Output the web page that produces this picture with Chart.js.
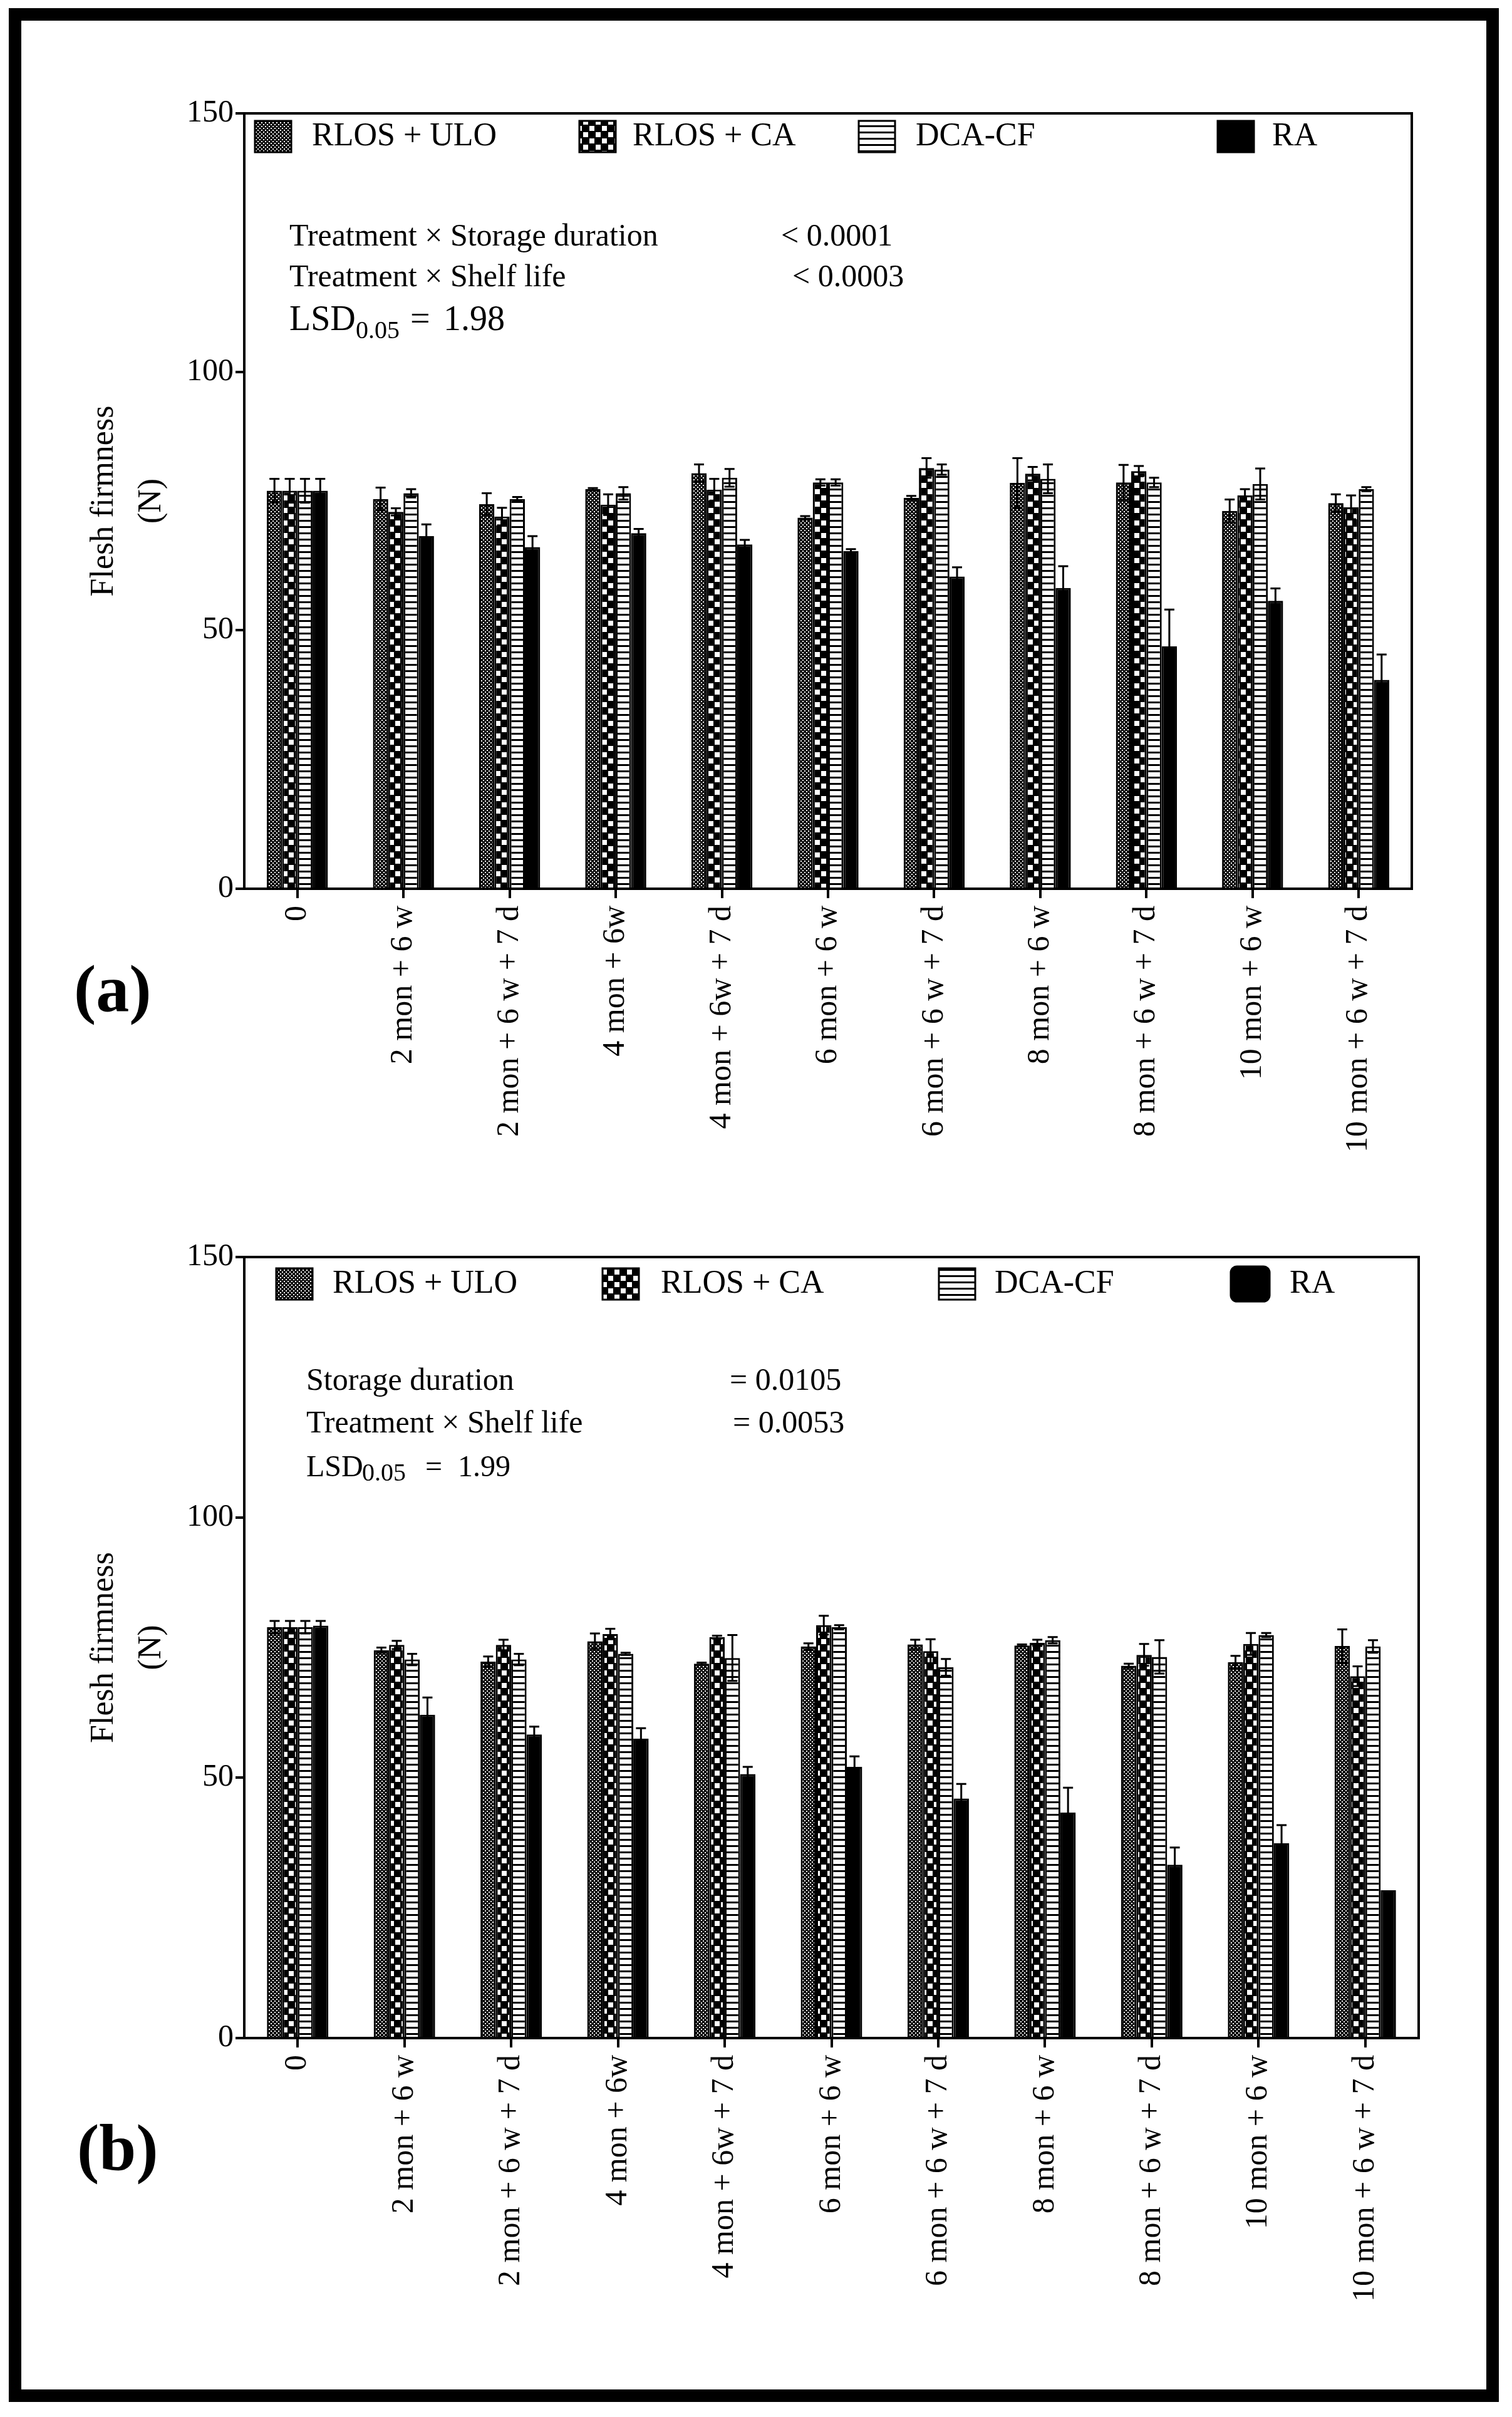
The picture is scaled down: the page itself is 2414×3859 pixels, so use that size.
<!DOCTYPE html>
<html>
<head>
<meta charset="utf-8">
<script src="https://cdn.jsdelivr.net/npm/chart.js@4.4.1/dist/chart.umd.min.js"></script>
<style>
  html, body { margin: 0; padding: 0; background: #fff; }
  body { width: 2414px; height: 3859px; position: relative; overflow: hidden; font-family: "Liberation Serif", serif; color: #000; }
  #frame { position: absolute; left: 14px; top: 13px; width: 2379px; height: 3822px; box-sizing: border-box; border: 20px solid #000; }
  .wrap { position: absolute; left: 0; width: 2414px; height: 1900px; }
  .wrap canvas { position: absolute; left: 0; top: 0; }
  .txt { position: absolute; white-space: nowrap; line-height: 1; z-index: 5; }
  .tag { position: absolute; font-weight: bold; font-size: 106px; line-height: 1; z-index: 5; }
</style>
</head>
<body>
<div id="frame"></div>

<div class="wrap" style="top:0px"><canvas id="chartA" width="2414" height="1900"></canvas></div>
<div class="wrap" style="top:1826px"><canvas id="chartB" width="2414" height="1900"></canvas></div>

<!-- panel (a) annotations -->
<div class="txt" style="left:462px;top:350px;font-size:50px">Treatment × Storage duration</div>
<div class="txt" style="left:1247px;top:350px;font-size:50px">&lt; 0.0001</div>
<div class="txt" style="left:462px;top:415px;font-size:50px">Treatment × Shelf life</div>
<div class="txt" style="left:1265px;top:415px;font-size:50px">&lt; 0.0003</div>
<div class="txt" style="left:462px;top:480px;font-size:56px">LSD</div>
<div class="txt" style="left:568px;top:507px;font-size:40px">0.05</div>
<div class="txt" style="left:655px;top:480px;font-size:56px">=</div>
<div class="txt" style="left:708px;top:480px;font-size:56px">1.98</div>
<div class="tag" style="left:118px;top:1526px">(a)</div>

<!-- panel (b) annotations -->
<div class="txt" style="left:489px;top:2177px;font-size:50px">Storage duration</div>
<div class="txt" style="left:1165px;top:2177px;font-size:50px">= 0.0105</div>
<div class="txt" style="left:489px;top:2245px;font-size:50px">Treatment × Shelf life</div>
<div class="txt" style="left:1170px;top:2245px;font-size:50px">= 0.0053</div>
<div class="txt" style="left:489px;top:2317px;font-size:48px">LSD</div>
<div class="txt" style="left:578px;top:2331px;font-size:40px">0.05</div>
<div class="txt" style="left:679px;top:2317px;font-size:48px">=</div>
<div class="txt" style="left:731px;top:2317px;font-size:48px">1.99</div>
<div class="tag" style="left:123px;top:3377px">(b)</div>

<script>
// categories and series
const categories = ['0', '2 mon + 6 w', '2 mon + 6 w + 7 d', '4 mon + 6w', '4 mon + 6w + 7 d',
  '6 mon + 6 w', '6 mon + 6 w + 7 d', '8 mon + 6 w', '8 mon + 6 w + 7 d', '10 mon + 6 w', '10 mon + 6 w + 7 d'];
const seriesNames = ['RLOS + ULO', 'RLOS + CA', 'DCA-CF', 'RA'];
const yTicks = [0, 50, 100, 150];

// panel (a) means and error bars
const uloA = [77.0, 75.4, 74.4, 77.3, 80.4, 71.8, 75.6, 78.5, 78.6, 73.1, 74.6];
const caA = [77.0, 72.9, 72.0, 74.3, 77.2, 78.6, 81.4, 80.3, 80.8, 76.1, 73.8];
const dcaA = [77.0, 76.5, 75.4, 76.5, 79.5, 78.6, 81.1, 79.3, 78.6, 78.3, 77.3];
const raA = [77.0, 68.2, 66.1, 68.8, 66.6, 65.3, 60.4, 58.2, 46.9, 55.7, 40.4];
const uloErrA = [2.3, 2.2, 2.1, 0.2, 1.7, 0.3, 0.4, 4.8, 3.4, 2.2, 1.7];
const caErrA = [2.3, 0.7, 1.7, 2.0, 2.1, 0.6, 1.9, 1.3, 1.0, 1.2, 2.3];
const dcaErrA = [2.3, 0.8, 0.4, 1.2, 1.7, 0.6, 1.0, 2.8, 0.9, 3.0, 0.4];
const raErrA = [2.3, 2.3, 2.1, 0.8, 0.9, 0.4, 1.8, 4.2, 7.1, 2.4, 4.9];

// panel (b) means and error bars
const uloB = [78.9, 74.5, 72.3, 76.2, 71.9, 75.2, 75.6, 75.4, 71.5, 72.2, 75.3];
const caB = [78.9, 75.5, 75.5, 77.6, 77.0, 79.3, 74.3, 75.9, 73.6, 75.7, 69.5];
const dcaB = [78.9, 72.7, 72.7, 73.8, 73.0, 78.9, 71.2, 76.4, 73.2, 77.4, 75.2];
const raB = [79.2, 62.1, 58.3, 57.5, 50.7, 52.1, 46.0, 43.3, 33.3, 37.4, 28.4];
const uloErrB = [1.2, 0.5, 1.0, 1.5, 0.2, 0.6, 0.9, 0.2, 0.4, 1.2, 3.2];
const caErrB = [1.2, 0.8, 1.0, 1.0, 0.3, 1.8, 2.3, 0.6, 2.1, 2.1, 1.9];
const dcaErrB = [1.2, 1.1, 1.1, 0.2, 4.4, 0.4, 1.6, 0.6, 3.2, 0.4, 1.2];
const raErrB = [0.9, 3.3, 1.5, 2.0, 1.4, 2.0, 2.8, 4.8, 3.3, 3.5, 0];

const FONT = 'Liberation Serif';

function makePattern(kind) {
  const c = document.createElement('canvas');
  const g = c.getContext('2d');
  if (kind === 'fine') {
    c.width = 6; c.height = 6;
    g.fillStyle = '#000'; g.fillRect(0, 0, 6, 6);
    g.fillStyle = '#fff'; g.fillRect(0, 0, 2, 2); g.fillRect(3, 3, 2, 2);
  } else if (kind === 'check') {
    c.width = 20; c.height = 20;
    g.fillStyle = '#000'; g.fillRect(0, 0, 20, 20);
    g.fillStyle = '#fff'; g.fillRect(1, 1, 8, 8); g.fillRect(11, 11, 8, 8);
  } else if (kind === 'stripe') {
    c.width = 10; c.height = 10;
    g.fillStyle = '#fff'; g.fillRect(0, 0, 10, 10);
    g.fillStyle = '#000'; g.fillRect(0, 0, 10, 3);
  }
  return g.createPattern(c, 'repeat');
}

const fills = [makePattern('fine'), makePattern('check'), makePattern('stripe'), '#000'];

// up/down error bars with caps
const errorBars = {
  id: 'errorBars',
  afterDatasetsDraw(chart) {
    const ctx = chart.ctx;
    const y = chart.scales.y;
    ctx.save();
    ctx.strokeStyle = '#000';
    ctx.lineWidth = 3;
    chart.data.datasets.forEach((ds, i) => {
      const meta = chart.getDatasetMeta(i);
      meta.data.forEach((bar, j) => {
        const v = ds.data[j], e = ds.errors[j];
        if (!e) return;
        const top = y.getPixelForValue(v + e);
        const bot = y.getPixelForValue(v - e);
        ctx.beginPath();
        ctx.moveTo(bar.x, bot); ctx.lineTo(bar.x, top);
        ctx.moveTo(bar.x - 8, top); ctx.lineTo(bar.x + 8, top);
        ctx.moveTo(bar.x - 8, bot); ctx.lineTo(bar.x + 8, bot);
        ctx.stroke();
      });
    });
    ctx.restore();
  }
};

// top and right sides of the plot box
const plotBox = {
  id: 'plotBox',
  afterDraw(chart) {
    const {ctx, chartArea: a} = chart;
    ctx.save();
    ctx.strokeStyle = '#000';
    ctx.lineWidth = 4;
    ctx.beginPath();
    ctx.moveTo(a.left, a.top); ctx.lineTo(a.right, a.top); ctx.lineTo(a.right, a.bottom);
    ctx.stroke();
    ctx.restore();
  }
};

// legend row with pattern swatches at set positions
const patternLegend = {
  id: 'patternLegend',
  afterDraw(chart, args, opts) {
    const ctx = chart.ctx;
    ctx.save();
    chart.data.datasets.forEach((ds, i) => {
      const bx = opts.boxX[i];
      const last = i === chart.data.datasets.length - 1;
      const w = last && opts.roundLast ? 62 : 58;
      const h = last && opts.roundLast ? 56 : 50;
      const by = opts.y - h / 2;
      ctx.fillStyle = ds.backgroundColor;
      ctx.strokeStyle = '#000';
      ctx.lineWidth = 3;
      ctx.beginPath();
      if (last && opts.roundLast) ctx.roundRect(bx, by, w, h, 10);
      else ctx.rect(bx, by, w, h);
      ctx.fill();
      ctx.stroke();
      ctx.fillStyle = '#000';
      ctx.font = '52px "' + FONT + '"';
      ctx.textBaseline = 'middle';
      ctx.textAlign = 'left';
      ctx.fillText(ds.label, opts.textX[i], opts.y);
    });
    ctx.restore();
  }
};

function buildChart(id, series, errs, lay) {
  const ctx = document.getElementById(id).getContext('2d');
  return new Chart(ctx, {
    type: 'bar',
    data: {
      labels: categories,
      datasets: seriesNames.map((name, i) => ({
        label: name,
        data: series[i],
        errors: errs[i],
        backgroundColor: fills[i],
        borderColor: '#000',
        borderWidth: 3,
        categoryPercentage: 0.575,
        barPercentage: 1.0
      }))
    },
    options: {
      responsive: false,
      animation: false,
      devicePixelRatio: 1,
      events: [],
      layout: { padding: lay.padding },
      plugins: {
        legend: { display: false },
        tooltip: { enabled: false },
        patternLegend: lay.legend
      },
      scales: {
        x: {
          afterFit: (s) => { s.height = lay.xHeight; },
          grid: { display: true, offset: false, drawOnChartArea: false, drawTicks: true, tickLength: 15, lineWidth: 4, color: '#000' },
          border: { display: true, width: 4, color: '#000' },
          ticks: {
            color: '#000', padding: 12, autoSkip: false, maxRotation: 90, minRotation: 90,
            font: { family: FONT, size: 50 }
          }
        },
        y: {
          min: 0,
          max: 150,
          afterFit: (s) => { s.width = lay.yWidth; },
          afterBuildTicks: (s) => { s.ticks = yTicks.map(v => ({ value: v })); },
          grid: { display: true, drawOnChartArea: false, drawTicks: true, tickLength: 14, lineWidth: 4, color: '#000' },
          border: { display: true, width: 4, color: '#000' },
          ticks: { color: '#000', padding: 3, font: { family: FONT, size: 50 } },
          title: {
            display: true,
            text: ['Flesh firmness', '(N)'],
            color: '#000',
            padding: 0,
            font: { family: FONT, size: 52, lineHeight: 1.46 }
          }
        }
      }
    },
    plugins: [errorBars, plotBox, patternLegend]
  });
}

buildChart('chartA', [uloA, caA, dcaA, raA], [uloErrA, caErrA, dcaErrA, raErrA], {
  padding: { left: 128, top: 181, right: 160, bottom: 30 },
  xHeight: 451,
  yWidth: 262,
  legend: { boxX: [407, 925, 1371, 1944], textX: [498, 1010, 1462, 2031], y: 218, roundLast: false }
});

buildChart('chartB', [uloB, caB, dcaB, raB], [uloErrB, caErrB, dcaErrB, raErrB], {
  padding: { left: 128, top: 181, right: 149, bottom: 30 },
  xHeight: 442,
  yWidth: 262,
  legend: { boxX: [441, 962, 1499, 1965], textX: [531, 1055, 1588, 2059], y: 224, roundLast: true }
});
</script>
</body>
</html>
